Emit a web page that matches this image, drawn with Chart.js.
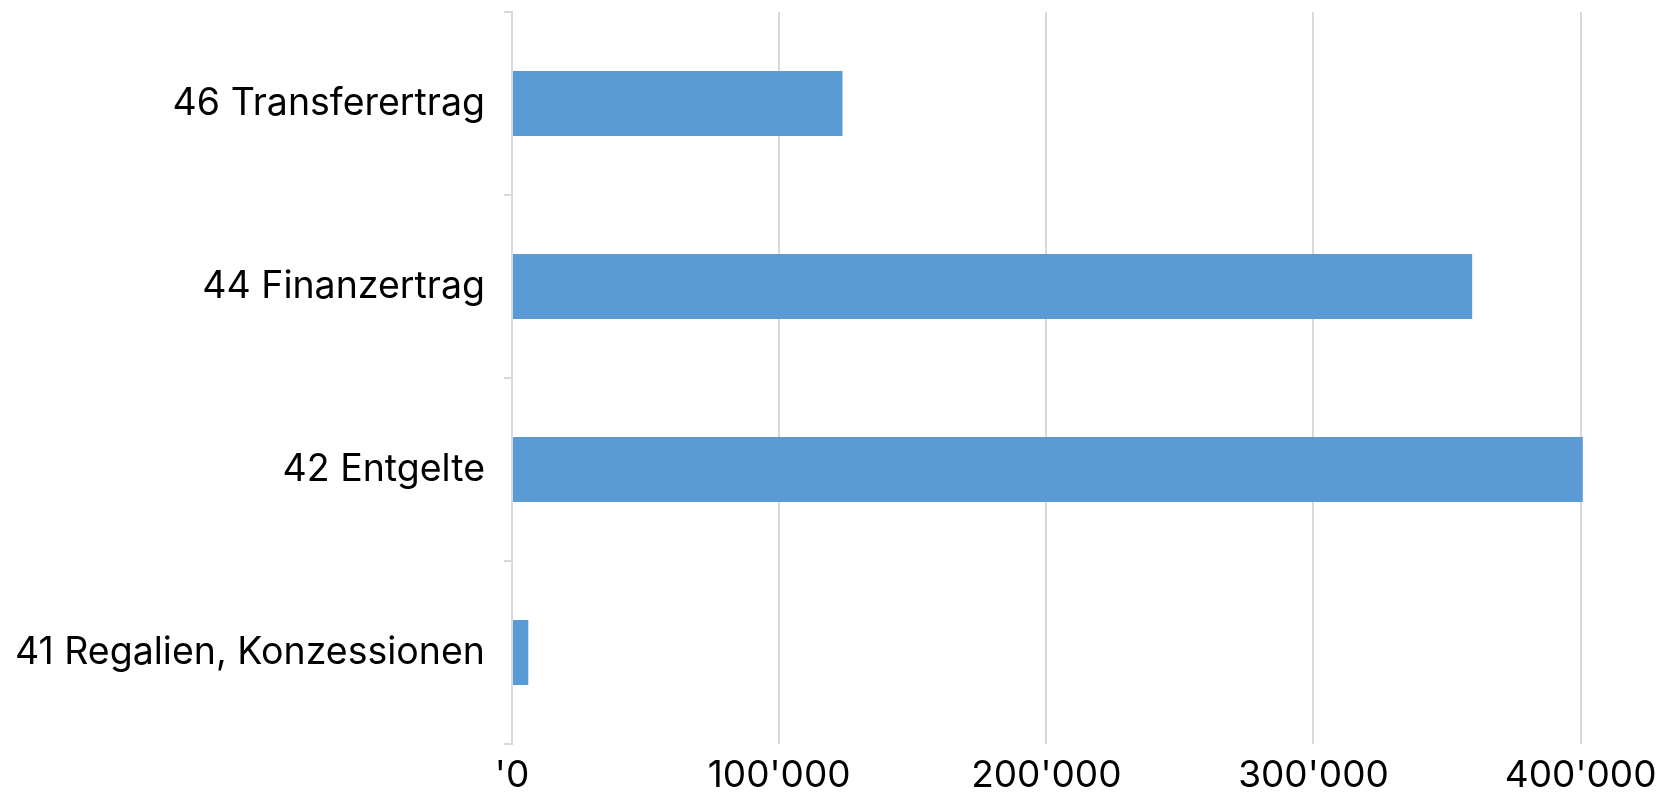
<!DOCTYPE html>
<html>
<head>
<meta charset="utf-8">
<script src="https://cdn.jsdelivr.net/npm/chart.js@4/dist/chart.umd.min.js"></script>
<style>
  html, body { margin: 0; padding: 0; background: #fff; }
  #wrap { width: 1660px; height: 795px; }
</style>
</head>
<body>
<div id="wrap"><canvas id="myChart" width="1660" height="795"></canvas></div>
<script>
// Kategorien und Werte (von oben nach unten)
const categories = ['46 Transferertrag', '44 Finanzertrag', '42 Entgelte', '41 Regalien, Konzessionen'];
const values = [123700, 359400, 400800, 6100];
const tickValues = [0, 100000, 200000, 300000, 400000];
const tickLabels = ["'0", "100'000", "200'000", "300'000", "400'000"];

const gridColor = '#d9d9d9';

const ctx = document.getElementById('myChart').getContext('2d');
const myChart = new Chart(ctx, {
    type: 'bar',
    data: {
        labels: categories,
        datasets: [{
            data: values,
            backgroundColor: '#5B9BD5',
            borderWidth: 0,
            barPercentage: 0.355,
            categoryPercentage: 1.0
        }]
    },
    options: {
        indexAxis: 'y',
        responsive: false,
        animation: false,
        layout: { padding: { top: 12, left: 0, right: 74, bottom: 0 } },
        plugins: {
            legend: { display: false },
            tooltip: { enabled: false }
        },
        scales: {
            x: {
                min: 0,
                max: 402000,
                afterBuildTicks: function (scale) {
                    scale.ticks = tickValues.map(v => ({ value: v }));
                },
                afterFit: function (scale) {
                    scale.height = 51;
                    scale.paddingLeft = 0;
                    scale.paddingRight = 0;
                },
                grid: { color: gridColor, lineWidth: 2, drawTicks: false },
                border: { display: false },
                ticks: {
                    padding: 10,
                    color: '#000',
                    font: { family: 'Inter', size: 37 },
                    maxRotation: 0,
                    autoSkip: false,
                    callback: function (value) {
                        const i = tickValues.indexOf(value);
                        return i >= 0 ? tickLabels[i] : '';
                    }
                }
            },
            y: {
                afterFit: function (scale) {
                    scale.width = 512;
                    scale.paddingTop = 0;
                    scale.paddingBottom = 0;
                },
                grid: { color: gridColor, lineWidth: 2, drawOnChartArea: false, tickLength: 8, offset: true },
                border: { display: true, color: gridColor, width: 2 },
                ticks: {
                    padding: 19,
                    color: '#000',
                    font: { family: 'Inter', size: 37.5 }
                }
            }
        }
    }
});
</script>
</body>
</html>
